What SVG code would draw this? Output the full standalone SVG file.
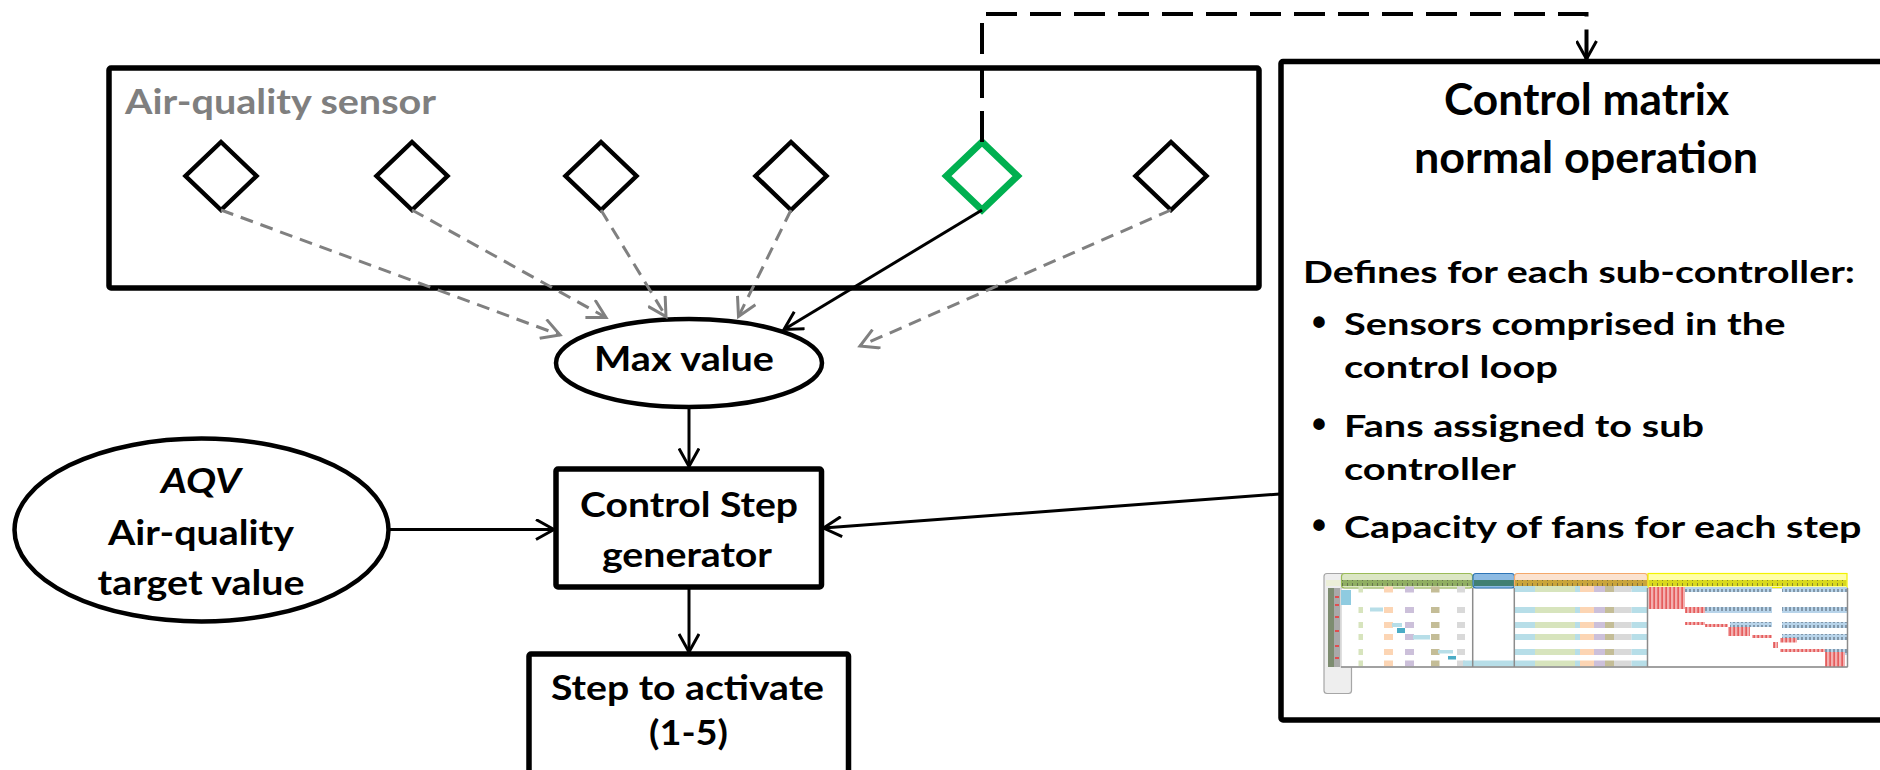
<svg xmlns="http://www.w3.org/2000/svg" width="1880" height="770" viewBox="0 0 1880 770">
  <style>
    .t{font-family:Lato,"Open Sans","Liberation Sans",sans-serif;font-weight:700;fill:#000}
    .lg{font-size:43px}
    .md{font-size:35px}
    .sm{font-size:31px}
    .dot{font-family:"Liberation Sans",sans-serif;font-weight:700;font-size:40px;fill:#000}
    .grey{fill:#7f7f7f}
    .box{fill:#fff;stroke:#000;stroke-width:5.5;stroke-linejoin:round}
    .oval{fill:#fff;stroke:#000;stroke-width:4.5}
    .dia{fill:#fff;stroke:#000;stroke-width:4.5}
    .dia-on{fill:#fff;stroke:#00b050;stroke-width:7}
    .link{fill:none;stroke:#000;stroke-width:3}
    .feed{fill:none;stroke:#808080;stroke-width:3;stroke-dasharray:13 8}
    .sel{fill:none;stroke:#000;stroke-width:4;stroke-dasharray:31 13}
    .ln{stroke:#8c8c8c;stroke-width:1.5}
  </style>
  <defs>
    <marker id="head" viewBox="0 0 22 22" refX="19" refY="11" markerWidth="22" markerHeight="22" markerUnits="userSpaceOnUse" orient="auto">
      <path d="M1,1 L19,11 L1,21" fill="none" stroke="#000" stroke-width="3"/>
    </marker>
    <marker id="head-grey" viewBox="0 0 22 22" refX="19" refY="11" markerWidth="22" markerHeight="22" markerUnits="userSpaceOnUse" orient="auto">
      <path d="M1,1 L19,11 L1,21" fill="none" stroke="#808080" stroke-width="3"/>
    </marker>
    <pattern id="cells-blue" width="4" height="6" patternUnits="userSpaceOnUse">
      <rect width="4" height="6" fill="#b8d4ea"/>
      <rect x="1.5" y="1" width="1" height="4" fill="#4a5a6a"/>
    </pattern>
    <pattern id="cells-red" width="4" height="6" patternUnits="userSpaceOnUse">
      <rect width="4" height="6" fill="#f3b0b0"/>
      <rect x="1.5" y="0" width="1.2" height="6" fill="#e03a3a"/>
    </pattern>
    <pattern id="cells-head" width="5" height="6" patternUnits="userSpaceOnUse">
      <rect x="2" y="1" width="1" height="4" fill="#3b3b3b" opacity="0.5"/>
    </pattern>
    <filter id="soft" x="-2%" y="-5%" width="104%" height="110%">
      <feGaussianBlur stdDeviation="0.7"/>
    </filter>
    <g id="fan-band">
      <rect x="1514.5" y="0" width="20.5" height="6" fill="#b7dee8"/>
      <rect x="1535" y="0" width="40" height="6" fill="#d7e4bd"/>
      <rect x="1575" y="0" width="5" height="6" fill="#b7dee8"/>
      <rect x="1580" y="0" width="14" height="6" fill="#fcd5b4"/>
      <rect x="1594" y="0" width="11" height="6" fill="#ccc0da"/>
      <rect x="1605" y="0" width="9" height="6" fill="#c4bd97"/>
      <rect x="1614" y="0" width="17.5" height="6" fill="#d9d9d9"/>
      <rect x="1631.5" y="0" width="16" height="6" fill="#b7dee8"/>
    </g>
    <g id="sub-band">
      <rect x="1358.5" y="0" width="4.5" height="6" fill="#d7e4bd"/>
      <rect x="1384" y="0" width="9" height="6" fill="#fcd5b4"/>
      <rect x="1405" y="0" width="9" height="6" fill="#ccc0da"/>
      <rect x="1431" y="0" width="8.5" height="6" fill="#c4bd97"/>
      <rect x="1457" y="0" width="8" height="6" fill="#d9d9d9"/>
    </g>
  </defs>

  <!-- sensor group -->
  <g id="sensor-panel">
    <rect class="box" x="109" y="68" width="1150" height="220" rx="2"/>
    <text class="t md grey" x="125" y="114" textLength="311" lengthAdjust="spacingAndGlyphs">Air-quality sensor</text>
  </g>
  <g id="sensor-1"><polygon class="dia" points="221,142 256.5,176 221,210 185.5,176"/></g>
  <g id="sensor-2"><polygon class="dia" points="412,142 447.5,176 412,210 376.5,176"/></g>
  <g id="sensor-3"><polygon class="dia" points="601,142 636.5,176 601,210 565.5,176"/></g>
  <g id="sensor-4"><polygon class="dia" points="791,142 826.5,176 791,210 755.5,176"/></g>
  <g id="sensor-5"><polygon class="dia-on" points="982,142 1017.5,176 982,210 946.5,176"/></g>
  <g id="sensor-6"><polygon class="dia" points="1171,142 1206.5,176 1171,210 1135.5,176"/></g>

  <!-- Max value -->
  <g id="max-value">
    <ellipse class="oval" cx="689" cy="363" rx="133" ry="44"/>
    <text class="t md" x="684" y="371" text-anchor="middle" textLength="180" lengthAdjust="spacingAndGlyphs">Max value</text>
  </g>

  <!-- target value -->
  <g id="aqv-target">
    <ellipse class="oval" cx="201.5" cy="530" rx="187" ry="91.5"/>
    <text class="t md" x="201" y="493" text-anchor="middle" font-style="italic" textLength="80" lengthAdjust="spacingAndGlyphs">AQV</text>
    <text class="t md" x="201" y="545" text-anchor="middle" textLength="186" lengthAdjust="spacingAndGlyphs">Air-quality</text>
    <text class="t md" x="201" y="595" text-anchor="middle" textLength="207" lengthAdjust="spacingAndGlyphs">target value</text>
  </g>

  <!-- step generator -->
  <g id="step-generator">
    <rect class="box" x="556" y="469" width="265.5" height="118" rx="2"/>
    <text class="t md" x="689" y="516.5" text-anchor="middle" textLength="218" lengthAdjust="spacingAndGlyphs">Control Step</text>
    <text class="t md" x="687" y="566.5" text-anchor="middle" textLength="170" lengthAdjust="spacingAndGlyphs">generator</text>
  </g>

  <!-- output step -->
  <g id="step-output">
    <rect class="box" x="529" y="654" width="319.5" height="140" rx="2"/>
    <text class="t md" x="687.5" y="700" text-anchor="middle" textLength="273" lengthAdjust="spacingAndGlyphs">Step to activate</text>
    <text class="t md" x="688.5" y="745" text-anchor="middle" textLength="79" lengthAdjust="spacingAndGlyphs">(1-5)</text>
  </g>

  <!-- control matrix -->
  <g id="control-matrix">
    <rect class="box" x="1281" y="61.5" width="640" height="658.5" rx="2"/>
    <text class="t lg" x="1586.5" y="115" text-anchor="middle" textLength="285" lengthAdjust="spacingAndGlyphs">Control matrix</text>
    <text class="t lg" x="1586" y="172.5" text-anchor="middle" textLength="344" lengthAdjust="spacingAndGlyphs">normal operation</text>
    <text class="t sm" x="1303" y="283.3" textLength="552" lengthAdjust="spacingAndGlyphs">Defines for each sub-controller:</text>
    <text class="dot" x="1312" y="336">•</text>
    <text class="t sm" x="1344" y="335" textLength="441.5" lengthAdjust="spacingAndGlyphs">Sensors comprised in the</text>
    <text class="t sm" x="1344" y="378.3" textLength="214" lengthAdjust="spacingAndGlyphs">control loop</text>
    <text class="dot" x="1312" y="437.7">•</text>
    <text class="t sm" x="1344" y="436.7" textLength="360" lengthAdjust="spacingAndGlyphs">Fans assigned to sub</text>
    <text class="t sm" x="1344" y="480" textLength="172" lengthAdjust="spacingAndGlyphs">controller</text>
    <text class="dot" x="1312" y="539.3">•</text>
    <text class="t sm" x="1344" y="538.3" textLength="517.5" lengthAdjust="spacingAndGlyphs">Capacity of fans for each step</text>

    <!-- miniature of the matrix spreadsheet -->
    <g id="matrix-sheet" filter="url(#soft)">
      <rect x="1324" y="573.5" width="27.5" height="120" rx="3" fill="#eeeeee" stroke="#a6a6a6" stroke-width="1.2"/>
      <rect x="1341" y="588" width="506.5" height="79" fill="#fff" stroke="#bfbfbf" stroke-width="1"/>
      <rect x="1326" y="580" width="14" height="6" fill="#ecefd8"/>
      <rect x="1328" y="588" width="6" height="79" fill="#7d8c70"/>
      <rect x="1334" y="588" width="6" height="79" fill="#a9a9a9"/>
      <rect x="1335" y="596" width="4" height="2" fill="#e05050"/>
      <rect x="1335" y="604" width="4" height="2" fill="#e05050"/>
      <rect x="1335" y="616" width="4" height="2" fill="#e05050"/>
      <rect x="1335" y="630" width="4" height="2" fill="#e05050"/>
      <rect x="1335" y="645" width="4" height="2" fill="#e05050"/>
      <rect x="1335" y="657" width="4" height="2" fill="#e05050"/>
      <rect x="1341" y="590" width="10" height="15" fill="#8fcbe0"/>

      <!-- column header bands -->
      <rect x="1341.5" y="573.5" width="131" height="14.5" rx="3" fill="#dbe6c4" stroke="#9bbb59" stroke-width="1.2"/>
      <rect x="1342" y="580" width="130" height="6" fill="#8fae62"/>
      <rect x="1342" y="580" width="130" height="6" fill="url(#cells-head)"/>
      <rect x="1473" y="573.5" width="41.5" height="14.5" rx="3" fill="#8dbbe3" stroke="#2e75b6" stroke-width="1.2"/>
      <rect x="1474" y="580" width="40" height="6" fill="#3f7f72"/>
      <rect x="1514.5" y="573.5" width="133" height="14.5" rx="3" fill="#fbe2cf" stroke="#f4a86a" stroke-width="1.2"/>
      <rect x="1515" y="580" width="132" height="6" fill="#c9a43a"/>
      <rect x="1515" y="580" width="132" height="6" fill="url(#cells-head)"/>
      <rect x="1648" y="573.5" width="199" height="14" fill="#ffffa8" stroke="#f2f200" stroke-width="1.2"/>
      <rect x="1648.5" y="580" width="198" height="6" fill="#d9d91a"/>
      <rect x="1648.5" y="580" width="198" height="6" fill="url(#cells-head)"/>

      <!-- left block: sub-controller cells -->
      <use href="#sub-band" y="586.5"/>
      <use href="#sub-band" y="607"/>
      <use href="#sub-band" y="622"/>
      <use href="#sub-band" y="634"/>
      <use href="#sub-band" y="649"/>
      <use href="#sub-band" y="660.5"/>
      <rect x="1370" y="607.5" width="13" height="4" fill="#b7dee8"/>
      <rect x="1392" y="623" width="10" height="4" fill="#b7dee8"/>
      <rect x="1397" y="628" width="8" height="5" fill="#4bacc6"/>
      <rect x="1413" y="635" width="17" height="4.5" fill="#b7dee8"/>
      <rect x="1438" y="650" width="15" height="3.5" fill="#b7dee8"/>
      <rect x="1448" y="656" width="8" height="3.5" fill="#4bacc6"/>
      <rect x="1463" y="660.5" width="51" height="6" fill="#b7dee8"/>

      <!-- middle block: fan rows -->
      <use href="#fan-band" y="586"/>
      <use href="#fan-band" y="607"/>
      <use href="#fan-band" y="622"/>
      <use href="#fan-band" y="634"/>
      <use href="#fan-band" y="649"/>
      <use href="#fan-band" y="660.5"/>

      <!-- right block: step capacities -->
      <rect x="1648.5" y="587" width="36.5" height="22" fill="url(#cells-red)"/>
      <rect x="1685" y="587" width="87" height="5" fill="url(#cells-blue)"/>
      <rect x="1782" y="587" width="65" height="5" fill="url(#cells-blue)"/>
      <rect x="1685" y="607" width="20" height="6" fill="url(#cells-red)"/>
      <rect x="1705" y="607" width="67" height="6" fill="url(#cells-blue)"/>
      <rect x="1782" y="607" width="65" height="6" fill="url(#cells-blue)"/>
      <rect x="1685" y="622" width="20" height="3" fill="url(#cells-red)"/>
      <rect x="1705" y="624" width="23" height="3" fill="url(#cells-red)"/>
      <rect x="1730" y="622" width="42" height="5" fill="url(#cells-blue)"/>
      <rect x="1782" y="622" width="65" height="6" fill="url(#cells-blue)"/>
      <rect x="1728" y="627" width="22" height="9" fill="url(#cells-red)"/>
      <rect x="1752" y="635" width="20" height="3" fill="url(#cells-red)"/>
      <rect x="1782" y="634" width="65" height="6" fill="url(#cells-blue)"/>
      <rect x="1780" y="638" width="17" height="4.5" fill="url(#cells-red)"/>
      <rect x="1773" y="642" width="5" height="6" fill="url(#cells-red)"/>
      <rect x="1780" y="649" width="45" height="3" fill="url(#cells-red)"/>
      <rect x="1825" y="649" width="22" height="6" fill="url(#cells-blue)"/>
      <rect x="1825" y="652" width="20" height="15" fill="url(#cells-red)"/>

      <line class="ln" x1="1472.7" y1="588" x2="1472.7" y2="667"/>
      <line class="ln" x1="1514.3" y1="588" x2="1514.3" y2="667"/>
      <line class="ln" x1="1647.5" y1="588" x2="1647.5" y2="667"/>
      <line class="ln" x1="1341" y1="667" x2="1847.5" y2="667"/>
      <line class="ln" x1="1847.5" y1="588" x2="1847.5" y2="667"/>
    </g>
  </g>

  <!-- connectors -->
  <g id="connectors">
    <line class="feed" x1="221" y1="210" x2="560" y2="335" marker-end="url(#head-grey)"/>
    <line class="feed" x1="412" y1="210" x2="606" y2="317.5" marker-end="url(#head-grey)"/>
    <line class="feed" x1="601" y1="210" x2="666" y2="316.5" marker-end="url(#head-grey)"/>
    <line class="feed" x1="791" y1="210" x2="738.5" y2="316.5" marker-end="url(#head-grey)"/>
    <line class="feed" x1="1171" y1="210" x2="860" y2="346" marker-end="url(#head-grey)"/>
    <line class="link" x1="982" y1="210" x2="784" y2="329.5" marker-end="url(#head)"/>
    <line class="link" x1="689" y1="407.5" x2="689" y2="466.5" marker-end="url(#head)"/>
    <line class="link" x1="689" y1="587" x2="689" y2="652" marker-end="url(#head)"/>
    <line class="link" x1="388.5" y1="529.5" x2="554" y2="529.5" marker-end="url(#head)"/>
    <line class="link" x1="1280" y1="494" x2="823.5" y2="528" marker-end="url(#head)"/>
    <polyline class="sel" points="982,142 982,14 1586.5,14 1586.5,59" marker-end="url(#head)"/>
  </g>
</svg>
